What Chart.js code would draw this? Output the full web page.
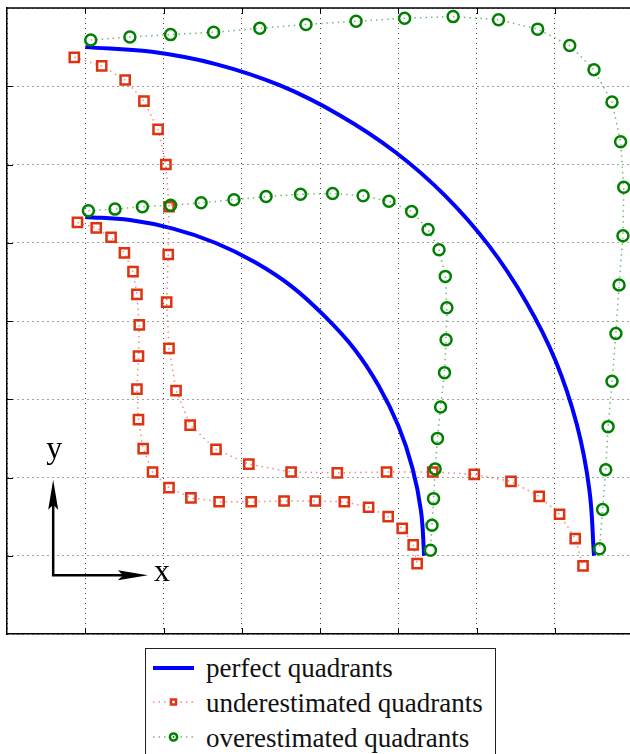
<!DOCTYPE html>
<html>
<head>
<meta charset="utf-8">
<script src="https://cdn.jsdelivr.net/npm/chart.js@4.4.0/dist/chart.umd.min.js"></script>
<style>
  body { margin: 0; background: #fff; width: 630px; height: 754px; overflow: hidden; position: relative; }
  #chart { position: absolute; left: 0; top: 0; }
  #legend { position: absolute; left: 145px; top: 648px; width: 351px; height: 130px;
            border: 1.5px solid #222; box-sizing: border-box; background: #fff; }
  .icon { position: absolute; left: 153px; }
  .label { position: absolute; left: 206px; font-family: "Liberation Serif", serif;
           font-size: 27px; line-height: 27px; color: #111; white-space: nowrap; }
</style>
</head>
<body>
<canvas id="chart" width="630" height="754"></canvas>
<div id="legend"></div>
<svg class="icon" style="top:658px" width="44" height="20">
  <line x1="0" y1="10" x2="41" y2="10" stroke="#0000ff" stroke-width="4"/>
</svg>
<span class="label" style="top:655px">perfect quadrants</span>
<svg class="icon" style="top:692px" width="44" height="20">
  <line x1="0" y1="10" x2="40" y2="10" stroke="rgba(221,51,17,0.55)" stroke-width="1.5" stroke-dasharray="1.5 4"/>
  <rect x="18" y="7.5" width="5" height="5" fill="#fff" stroke="#dd3311" stroke-width="2.5"/>
</svg>
<span class="label" style="top:690px">underestimated quadrants</span>
<svg class="icon" style="top:727px" width="44" height="20">
  <line x1="0" y1="10" x2="40" y2="10" stroke="rgba(0,128,0,0.55)" stroke-width="1.5" stroke-dasharray="1.5 4"/>
  <circle cx="20.5" cy="10" r="3.6" fill="#fff" stroke="#008000" stroke-width="2.5"/>
  <circle cx="20.5" cy="10" r="1" fill="#008000"/>
</svg>
<span class="label" style="top:725px">overestimated quadrants</span>
<script>
// perfect quadrants (outer and inner arcs)
var perfectOuter = [[1.00,7.50],[1.85,7.44],[2.68,7.28],[3.49,7.01],[4.25,6.63],[4.96,6.16],[5.60,5.60],
  [6.16,4.96],[6.63,4.25],[7.01,3.49],[7.28,2.68],[7.44,1.85],[7.50,1.00]];
var perfectInner = [[1.00,5.33],[1.57,5.29],[2.12,5.18],[2.66,5.00],[3.17,4.75],[3.64,4.44],[4.06,4.06],
  [4.44,3.64],[4.75,3.17],[5.00,2.66],[5.18,2.12],[5.29,1.57],[5.33,1.00]];

// underestimated quadrants
var underOuter = [[0.86,7.37],[1.21,7.26],[1.51,7.08],[1.75,6.81],[1.93,6.45],[2.03,6.00],[2.07,5.46],[2.06,4.85],
  [2.04,4.24],[2.07,3.65],[2.16,3.11],[2.34,2.67],[2.67,2.36],[3.09,2.17],[3.63,2.07],[4.22,2.06],
  [4.85,2.07],[5.44,2.07],[5.97,2.04],[6.44,1.95],[6.80,1.76],[7.06,1.53],[7.26,1.22],[7.36,0.87]];
var underInner = [[0.90,5.26],[1.14,5.19],[1.33,5.07],[1.50,4.87],[1.61,4.63],[1.66,4.34],[1.69,3.95],[1.68,3.55],
  [1.66,3.13],[1.68,2.74],[1.74,2.37],[1.86,2.07],[2.07,1.87],[2.35,1.74],[2.71,1.69],[3.12,1.69],
  [3.54,1.70],[3.94,1.70],[4.31,1.69],[4.62,1.62],[4.87,1.50],[5.05,1.35],[5.19,1.14],[5.24,0.90]];

// overestimated quadrants
var overOuter = [[1.07,7.59],[1.57,7.63],[2.09,7.66],[2.64,7.69],[3.23,7.74],[3.82,7.79],[4.46,7.83],[5.08,7.87],
  [5.70,7.89],[6.28,7.85],[6.78,7.73],[7.19,7.52],[7.50,7.21],[7.73,6.80],[7.84,6.29],[7.88,5.71],
  [7.87,5.09],[7.82,4.46],[7.78,3.84],[7.73,3.23],[7.68,2.65],[7.65,2.10],[7.61,1.59],[7.57,1.09]];
var overInner = [[1.04,5.41],[1.38,5.43],[1.73,5.46],[2.09,5.48],[2.48,5.51],[2.90,5.55],[3.31,5.59],[3.75,5.62],
  [4.16,5.63],[4.55,5.60],[4.88,5.53],[5.17,5.40],[5.38,5.17],[5.52,4.91],[5.60,4.57],[5.62,4.17],
  [5.61,3.76],[5.59,3.34],[5.54,2.90],[5.50,2.50],[5.47,2.11],[5.45,1.73],[5.43,1.39],[5.41,1.07]];

// x/y direction arrows (data units): corner, tip of x arrow, tip of y arrow
var arrowCorner = [0.59, 0.75];
var arrowXTip = 1.80;
var arrowYTip = 1.97;

function pts(arr) {
  return arr.map(function (p) { return { x: p[0], y: p[1] }; });
}

var red = '#dd3311', green = '#008000';

function perfectSet(arr) {
  return { data: pts(arr), showLine: true, borderColor: '#0000ff', borderWidth: 4,
           pointRadius: 0, tension: 0.4, order: 3 };
}
function underSet(arr) {
  return { data: pts(arr), showLine: true, borderColor: 'rgba(221,51,17,0.55)', borderWidth: 1.5,
           borderDash: [1.5, 4], pointStyle: 'rect', pointRadius: 6.5, pointBorderWidth: 2.5,
           pointBorderColor: red, pointBackgroundColor: 'transparent', order: 2 };
}
function overSet(arr) {
  return { data: pts(arr), showLine: true, borderColor: 'rgba(0,128,0,0.55)', borderWidth: 1.5,
           borderDash: [1.5, 4], pointStyle: 'circle', pointRadius: 5.5, pointBorderWidth: 2.5,
           pointBorderColor: green, pointBackgroundColor: 'transparent', order: 1 };
}

var framePlugin = {
  id: 'frame',
  afterDraw: function (chart) {
    var ctx = chart.ctx, a = chart.chartArea;
    var xs = chart.scales.x, ys = chart.scales.y;
    ctx.save();
    ctx.strokeStyle = '#000';
    ctx.lineWidth = 1.5;
    ctx.beginPath();
    ctx.moveTo(a.left, a.top);
    ctx.lineTo(a.right, a.top);
    ctx.stroke();

    // inward tick marks
    ctx.lineWidth = 1;
    ctx.beginPath();
    for (var v = 1; v <= 7; v++) {
      var px = Math.round(xs.getPixelForValue(v)) + 0.5;
      ctx.moveTo(px, a.bottom); ctx.lineTo(px, a.bottom - 6);
      ctx.moveTo(px, a.top); ctx.lineTo(px, a.top + 6);
      var py = Math.round(ys.getPixelForValue(v)) + 0.5;
      ctx.moveTo(a.left, py); ctx.lineTo(a.left + 6, py);
    }
    ctx.stroke();

    // direction arrows
    var cx = xs.getPixelForValue(arrowCorner[0]), cy = ys.getPixelForValue(arrowCorner[1]);
    var tx = xs.getPixelForValue(arrowXTip), ty = ys.getPixelForValue(arrowYTip);
    ctx.lineWidth = 2.5;
    ctx.beginPath();
    ctx.moveTo(cx, ty + 20); ctx.lineTo(cx, cy); ctx.lineTo(tx - 20, cy);
    ctx.stroke();
    ctx.fillStyle = '#000';
    ctx.beginPath();
    ctx.moveTo(cx, ty); ctx.lineTo(cx - 5, ty + 30); ctx.lineTo(cx, ty + 25); ctx.lineTo(cx + 5, ty + 30);
    ctx.closePath(); ctx.fill();
    ctx.beginPath();
    ctx.moveTo(tx, cy); ctx.lineTo(tx - 30, cy - 5); ctx.lineTo(tx - 25, cy); ctx.lineTo(tx - 30, cy + 5);
    ctx.closePath(); ctx.fill();

    ctx.font = '32px "Liberation Serif", serif';
    ctx.textAlign = 'center';
    ctx.textBaseline = 'alphabetic';
    ctx.fillText('y', cx + 1, ty - 22);
    ctx.fillText('x', tx + 14, cy + 6);
    ctx.restore();
  }
};

var ctx = document.getElementById('chart');
var chart = new Chart(ctx, {
  type: 'scatter',
  data: {
    datasets: [
      perfectSet(perfectOuter), perfectSet(perfectInner),
      underSet(underOuter), underSet(underInner),
      overSet(overOuter), overSet(overInner)
    ]
  },
  options: {
    responsive: false,
    animation: false,
    devicePixelRatio: 1,
    layout: { autoPadding: false, padding: { left: 7, top: 8, right: 0, bottom: 120 } },
    plugins: { legend: { display: false }, tooltip: { enabled: false } },
    scales: {
      x: {
        min: 0, max: 7.96,
        ticks: { display: false, stepSize: 1, includeBounds: false },
        grid: { color: '#444', lineWidth: 1, drawTicks: false },
        border: { display: true, color: '#000', width: 1.5, dash: [1, 4] }
      },
      y: {
        min: 0, max: 8,
        ticks: { display: false, stepSize: 1, includeBounds: false },
        grid: { color: '#444', lineWidth: 1, drawTicks: false },
        border: { display: true, color: '#000', width: 1.5, dash: [1, 4] }
      }
    }
  },
  plugins: [framePlugin]
});
</script>
</body>
</html>
